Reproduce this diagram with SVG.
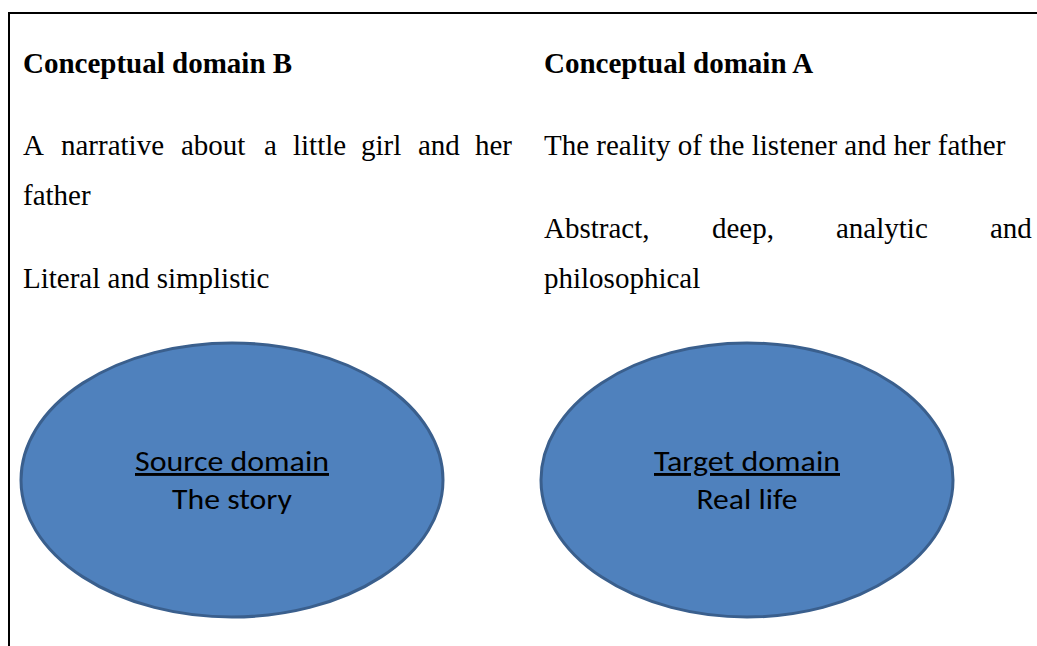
<svg xmlns="http://www.w3.org/2000/svg" width="1037" height="646" viewBox="0 0 1037 646">
<style>
.t{font-family:"Liberation Serif","Times New Roman",serif;font-size:29px;fill:#000}
.b{font-weight:bold}
.e{fill:#4f81bd;stroke:#3a5f8d;stroke-width:3}
.c{font-family:Carlito,Calibri,"Open Sans","Noto Sans",sans-serif;font-size:29px;fill:#000;text-anchor:middle}
</style>
<rect width="1037" height="646" fill="#fff"/>
<g id="frame" stroke="#000" stroke-width="2" fill="none">
<line x1="8" y1="13" x2="1037" y2="13"/>
<line x1="9" y1="12" x2="9" y2="646"/>
</g>
<g id="domainB">
<text class="t b" x="23" y="73">Conceptual domain B</text>
<text class="t" y="155"><tspan x="23">A</tspan><tspan x="61">narrative</tspan><tspan x="181">about</tspan><tspan x="264">a</tspan><tspan x="293">little</tspan><tspan x="361">girl</tspan><tspan x="418">and</tspan><tspan x="475">her</tspan></text>
<text class="t" x="23" y="205">father</text>
<text class="t" x="23" y="288">Literal and simplistic</text>
</g>
<g id="domainA">
<text class="t b" x="544" y="73">Conceptual domain A</text>
<text class="t" x="544" y="155">The reality of the listener and her father</text>
<text class="t" y="238"><tspan x="544">Abstract,</tspan><tspan x="712">deep,</tspan><tspan x="836">analytic</tspan><tspan x="990">and</tspan></text>
<text class="t" x="544" y="288">philosophical</text>
</g>
<g id="source">
<ellipse class="e" cx="232" cy="480" rx="211" ry="137"/>
<text class="c" x="232" y="471" text-decoration="underline" textLength="194" lengthAdjust="spacingAndGlyphs">Source domain</text>
<text class="c" x="232" y="509" textLength="120" lengthAdjust="spacingAndGlyphs">The story</text>
</g>
<g id="target">
<ellipse class="e" cx="747" cy="480" rx="206" ry="137"/>
<text class="c" x="747" y="471" text-decoration="underline" textLength="186" lengthAdjust="spacingAndGlyphs">Target domain</text>
<text class="c" x="747" y="509" textLength="101" lengthAdjust="spacingAndGlyphs">Real life</text>
</g>
<g id="connectors"/>
</svg>
